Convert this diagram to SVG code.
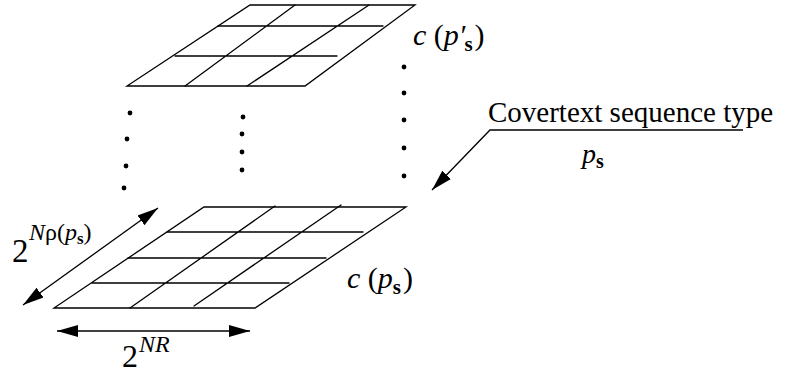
<svg xmlns="http://www.w3.org/2000/svg" width="788" height="375" viewBox="0 0 788 375">
<style>
.g{fill:none;stroke:#000;stroke-width:1.3;stroke-linecap:round}
.c{fill:none;stroke:#000;stroke-width:1.3}
.d{fill:#000}
.t{font-family:"Liberation Serif","Times New Roman",serif;fill:#000}
.i{font-style:italic}
.b{font-weight:bold}
</style>
<defs>
<marker id="ah" markerUnits="userSpaceOnUse" markerWidth="24" markerHeight="14" refX="21" refY="7" orient="auto-start-reverse" viewBox="0 0 24 14">
<path d="M0,1 L21,7 L0,13 Z" fill="#000"/>
</marker>
</defs>
<rect width="788" height="375" fill="#fff"/>
<g id="grid-top">
<path class="g" d="M250,5 L415,5 L305,86 L127,86 Z"/>
<path class="g" d="M218,26 L383,26 M175,56 L337,56 M295,5 L185,86 M369,5 L247,86"/>
</g>
<g id="grid-bottom">
<path class="g" d="M204,207 L406,207 L255,308 L54,308 Z"/>
<path class="g" d="M167,232 L363,232 M128,258 L326,258 M92,283 L289,283 M275,206 L130,308 M341,205 L194,306"/>
</g>
<g id="dots">
<circle class="d" cx="130" cy="113" r="2.4"/>
<circle class="d" cx="127" cy="139" r="2.4"/>
<circle class="d" cx="126" cy="166" r="2.4"/>
<circle class="d" cx="124" cy="188" r="2.4"/>
<circle class="d" cx="243" cy="117" r="2.4"/>
<circle class="d" cx="242" cy="134" r="2.4"/>
<circle class="d" cx="242" cy="152" r="2.4"/>
<circle class="d" cx="242" cy="170" r="2.4"/>
<circle class="d" cx="404" cy="67" r="2.4"/>
<circle class="d" cx="404" cy="93" r="2.4"/>
<circle class="d" cx="404" cy="120" r="2.4"/>
<circle class="d" cx="404" cy="148" r="2.4"/>
<circle class="d" cx="404" cy="176" r="2.4"/>
</g>
<g id="connectors">
<line class="c" x1="23" y1="305" x2="158" y2="208" marker-start="url(#ah)" marker-end="url(#ah)"/>
<line class="c" x1="57" y1="331" x2="250" y2="331" marker-start="url(#ah)" marker-end="url(#ah)"/>
<path class="c" d="M743,130 L490,130 L432,190" marker-end="url(#ah)"/>
</g>
<g id="label-top">
<text class="t" x="413" y="45" font-size="30"><tspan class="i">c</tspan> (<tspan class="i">p′</tspan><tspan class="b" font-size="21" dx="-1" dy="6">s</tspan><tspan dx="2" dy="-6">)</tspan></text>
</g>
<g id="label-bottom">
<text class="t" x="347" y="288" font-size="30"><tspan class="i">c</tspan> (<tspan class="i">p</tspan><tspan class="b" font-size="21" dy="6">s</tspan><tspan dx="2" dy="-6">)</tspan></text>
</g>
<g id="label-rho">
<text class="t" x="12" y="262" font-size="33">2</text>
<text class="t" x="29" y="240" font-size="24"><tspan class="i">N</tspan>ρ(<tspan class="i">p</tspan><tspan class="b" font-size="17" dy="4">s</tspan><tspan dy="-4">)</tspan></text>
</g>
<g id="label-nr">
<text class="t" x="122" y="367" font-size="32">2</text>
<text class="t i" x="139" y="352" font-size="24">NR</text>
</g>
<g id="label-type">
<text class="t" x="488" y="122" font-size="29">Covertext sequence type</text>
<text class="t" x="582" y="163" font-size="28"><tspan class="i">p</tspan><tspan class="b" font-size="20" dy="5">s</tspan></text>
</g>
</svg>
